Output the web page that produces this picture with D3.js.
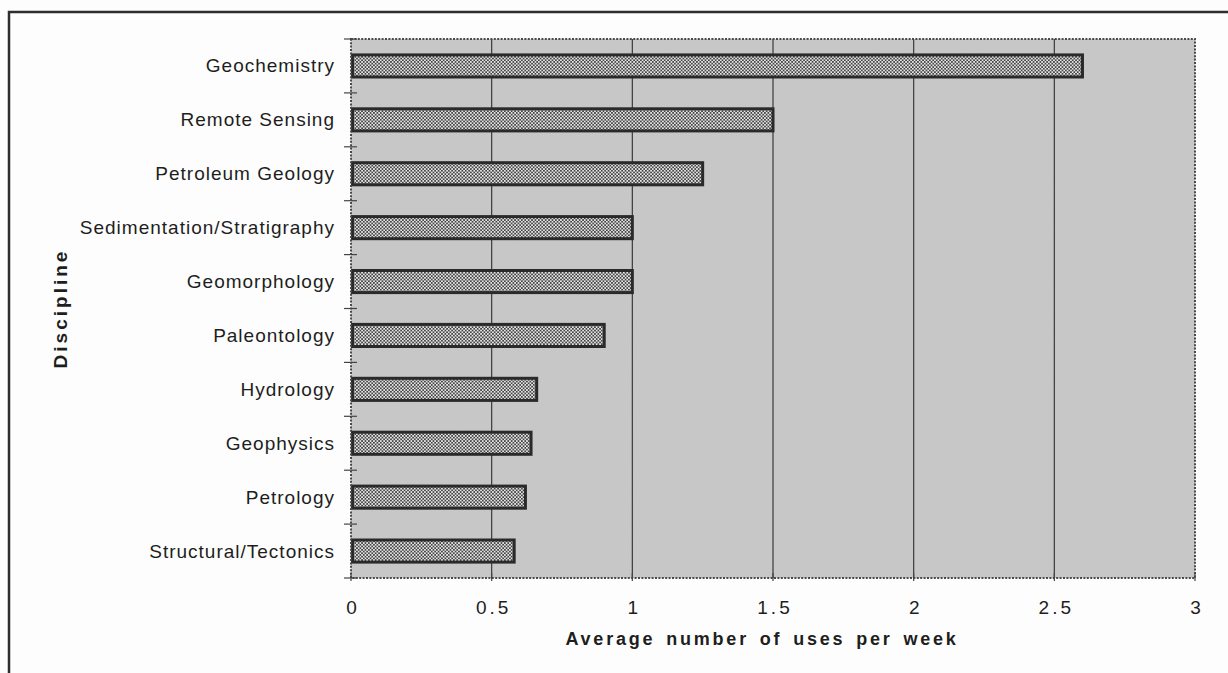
<!DOCTYPE html>
<html>
<head>
<meta charset="utf-8">
<script src="https://d3js.org/d3.v7.min.js"></script>
<style>
  html, body { margin: 0; padding: 0; background: #fdfdfd; }
  svg { display: block; }
  text { font-family: "Liberation Sans", Arial, Helvetica, sans-serif; fill: #1e1e1e; }
</style>
</head>
<body>
<svg id="chart" width="1228" height="673"></svg>
<script>
const categories = ["Geochemistry", "Remote Sensing", "Petroleum Geology", "Sedimentation/Stratigraphy",
  "Geomorphology", "Paleontology", "Hydrology", "Geophysics", "Petrology", "Structural/Tectonics"];
const values = [2.6, 1.5, 1.25, 1.0, 1.0, 0.9, 0.66, 0.64, 0.62, 0.58];
const xTicks = [0, 0.5, 1, 1.5, 2, 2.5, 3];
const xTitle = "Average number of uses per week";
const yTitle = "Discipline";

const W = 1228, H = 673;
const m = { left: 351, top: 39, right: 33, bottom: 95 };
const pw = W - m.left - m.right, ph = H - m.top - m.bottom;

const svg = d3.select("#chart");
const defs = svg.append("defs");

const pat = defs.append("pattern").attr("id", "checker")
  .attr("patternUnits", "userSpaceOnUse").attr("width", 3.4).attr("height", 3.4);
pat.append("rect").attr("width", 3.4).attr("height", 3.4).attr("fill", "#e6e6e6");
pat.append("rect").attr("width", 1.7).attr("height", 1.7).attr("fill", "#444");
pat.append("rect").attr("x", 1.7).attr("y", 1.7).attr("width", 1.7).attr("height", 1.7).attr("fill", "#444");

const flt = defs.append("filter").attr("id", "grain").attr("x", 0).attr("y", 0).attr("width", 1).attr("height", 1);
flt.append("feTurbulence").attr("type", "fractalNoise").attr("baseFrequency", 0.9).attr("numOctaves", 2).attr("result", "n");
flt.append("feColorMatrix").attr("in", "n").attr("type", "matrix")
  .attr("values", "0 0 0 0 0.5  0 0 0 0 0.5  0 0 0 0 0.5  0 0 0 0.12 0").attr("result", "g");
flt.append("feComposite").attr("in", "g").attr("in2", "SourceGraphic").attr("operator", "in").attr("result", "gg");
flt.append("feMerge").selectAll("feMergeNode").data(["SourceGraphic", "gg"]).join("feMergeNode").attr("in", d => d);

// outer frame (left & top visible)
svg.append("path").attr("d", `M9,${H}V12H${W}`).attr("fill", "none").attr("stroke", "#2e2e2e").attr("stroke-width", 2.5);

const g = svg.append("g").attr("transform", `translate(${m.left},${m.top})`);

const x = d3.scaleLinear().domain([0, 3]).range([0, pw]);
const y = d3.scaleBand().domain(categories).range([0, ph]).paddingInner(0.59).paddingOuter(0.295);

// plot background
g.append("rect").attr("width", pw).attr("height", ph).attr("fill", "#c8c8c8").attr("filter", "url(#grain)");

// gridlines
g.append("g").selectAll("line").data(xTicks.slice(1, -1)).join("line")
  .attr("x1", d => x(d)).attr("x2", d => x(d)).attr("y1", 0).attr("y2", ph)
  .attr("stroke", "#3a3a3a").attr("stroke-width", 1.2);

// bars
g.append("g").selectAll("rect").data(values).join("rect")
  .attr("x", x(0) + 1.5)
  .attr("y", (d, i) => y(categories[i]))
  .attr("width", d => x(d) - x(0) - 1.5)
  .attr("height", y.bandwidth())
  .attr("fill", "url(#checker)")
  .attr("stroke", "#2a2a2a").attr("stroke-width", 3);

// plot border (dotted/jagged look)
g.append("rect").attr("width", pw).attr("height", ph).attr("fill", "none")
  .attr("stroke", "#4a4a4a").attr("stroke-width", 2).attr("stroke-dasharray", "2,1.4");

// y axis boundary ticks
const step = y.step();
const bounds = d3.range(categories.length + 1).map(i => i * step);
g.append("g").selectAll("line").data(bounds).join("line")
  .attr("x1", -7).attr("x2", 6).attr("y1", d => d).attr("y2", d => d)
  .attr("stroke", "#444").attr("stroke-width", 1.2);

// x axis ticks
g.append("g").selectAll("line").data(xTicks).join("line")
  .attr("x1", d => x(d)).attr("x2", d => x(d)).attr("y1", ph - 5).attr("y2", ph + 3)
  .attr("stroke", "#444").attr("stroke-width", 1.2);

// category labels
g.append("g").selectAll("text").data(categories).join("text")
  .attr("x", -16).attr("y", d => y(d) + y.bandwidth() / 2)
  .attr("text-anchor", "end").attr("dominant-baseline", "central")
  .style("font-size", "19px").style("letter-spacing", "1px")
  .text(d => d);

// x tick labels
g.append("g").selectAll("text").data(xTicks).join("text")
  .attr("x", d => x(d) + 2).attr("y", ph + 29)
  .attr("text-anchor", "middle").attr("dominant-baseline", "central")
  .style("font-size", "19px").style("letter-spacing", "3px")
  .text(d => String(d));

// axis titles
g.append("text").attr("x", pw / 2 - 11).attr("y", ph + 61)
  .attr("text-anchor", "middle").attr("dominant-baseline", "central")
  .style("font-size", "18px").style("font-weight", "bold")
  .style("letter-spacing", "2.8px").style("word-spacing", "3px")
  .text(xTitle);

svg.append("text")
  .attr("transform", `translate(60,${m.top + ph / 2}) rotate(-90)`)
  .attr("text-anchor", "middle").attr("dominant-baseline", "central")
  .style("font-size", "19px").style("font-weight", "bold").style("letter-spacing", "3px")
  .text(yTitle);
</script>
</body>
</html>
